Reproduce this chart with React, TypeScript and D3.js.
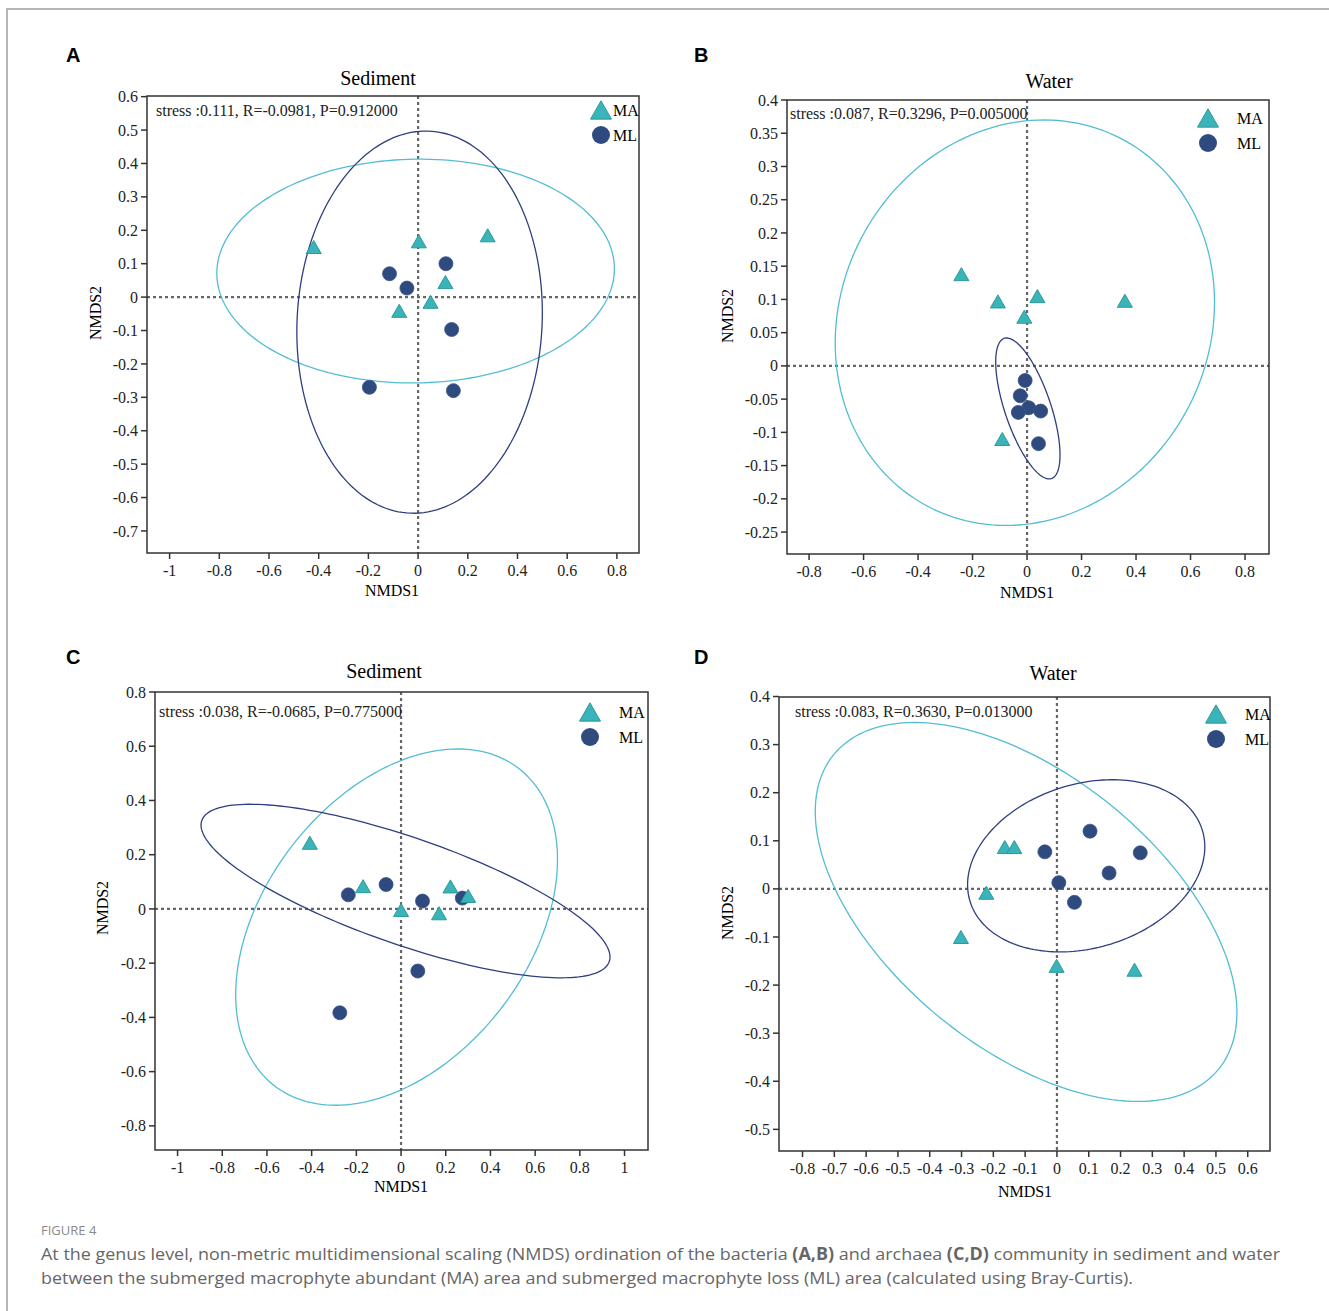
import React from 'react';
import * as d3 from 'd3';

// ---- data ----
const panelIds = ['A', 'B', 'C', 'D'];
const panelTitles = ['Sediment', 'Water', 'Sediment', 'Water'];
const stressLabels = [
  'stress :0.111, R=-0.0981, P=0.912000',
  'stress :0.087, R=0.3296, P=0.005000',
  'stress :0.038, R=-0.0685, P=0.775000',
  'stress :0.083, R=0.3630, P=0.013000',
];
const groupNames = ['MA', 'ML'];

const xTicksA = [-1, -0.8, -0.6, -0.4, -0.2, 0, 0.2, 0.4, 0.6, 0.8];
const yTicksA = [0.6, 0.5, 0.4, 0.3, 0.2, 0.1, 0, -0.1, -0.2, -0.3, -0.4, -0.5, -0.6, -0.7];
const xTicksB = [-0.8, -0.6, -0.4, -0.2, 0, 0.2, 0.4, 0.6, 0.8];
const yTicksB = [0.4, 0.35, 0.3, 0.25, 0.2, 0.15, 0.1, 0.05, 0, -0.05, -0.1, -0.15, -0.2, -0.25];
const xTicksC = [-1, -0.8, -0.6, -0.4, -0.2, 0, 0.2, 0.4, 0.6, 0.8, 1];
const yTicksC = [0.8, 0.6, 0.4, 0.2, 0, -0.2, -0.4, -0.6, -0.8];
const xTicksD = [-0.8, -0.7, -0.6, -0.5, -0.4, -0.3, -0.2, -0.1, 0, 0.1, 0.2, 0.3, 0.4, 0.5, 0.6];
const yTicksD = [0.4, 0.3, 0.2, 0.1, 0, -0.1, -0.2, -0.3, -0.4, -0.5];

// NMDS scores [NMDS1, NMDS2]
const maA = [[-0.42, 0.15], [0.003, 0.167], [0.28, 0.185], [0.11, 0.045], [0.05, -0.014], [-0.076, -0.041]];
const mlA = [[-0.115, 0.07], [-0.045, 0.027], [0.112, 0.1], [0.135, -0.097], [-0.196, -0.27], [0.142, -0.28]];
const maB = [[-0.241, 0.138], [-0.107, 0.097], [0.038, 0.105], [-0.01, 0.074], [0.359, 0.098], [-0.091, -0.11]];
const mlB = [[-0.007, -0.022], [-0.025, -0.045], [0.006, -0.063], [-0.032, -0.07], [0.05, -0.068], [0.042, -0.117]];
const maC = [[-0.408, 0.244], [-0.17, 0.084], [0.0, -0.004], [0.17, -0.016], [0.221, 0.083], [0.3, 0.048]];
const mlC = [[-0.236, 0.052], [-0.067, 0.09], [0.096, 0.029], [0.274, 0.04], [0.075, -0.229], [-0.274, -0.383]];
const maD = [[-0.164, 0.087], [-0.134, 0.087], [-0.222, -0.008], [-0.302, -0.1], [-0.001, -0.16], [0.244, -0.168]];
const mlD = [[-0.038, 0.077], [0.104, 0.12], [0.262, 0.075], [0.164, 0.033], [0.006, 0.013], [0.055, -0.028]];

// confidence ellipses: centre, half width, half height, correlation
const ellMA = [
  { cx: -0.01, cy: 0.078, hw: 0.8, hh: 0.335, rho: 0.02 },
  { cx: -0.008, cy: 0.065, hw: 0.696, hh: 0.305, rho: 0.1 },
  { cx: -0.02, cy: -0.067, hw: 0.72, hh: 0.657, rho: 0.38 },
  { cx: -0.097, cy: -0.048, hw: 0.663, hh: 0.394, rho: -0.53 },
];
const ellML = [
  { cx: 0.006, cy: -0.075, hw: 0.494, hh: 0.572, rho: 0.05 },
  { cx: 0.003, cy: -0.064, hw: 0.118, hh: 0.106, rho: -0.66 },
  { cx: 0.02, cy: 0.066, hw: 0.915, hh: 0.32, rho: -0.76 },
  { cx: 0.092, cy: 0.048, hw: 0.373, hh: 0.179, rho: 0.22 },
];

const xTicks = [xTicksA, xTicksB, xTicksC, xTicksD];
const yTicks = [yTicksA, yTicksB, yTicksC, yTicksD];
const maPts = [maA, maB, maC, maD];
const mlPts = [mlA, mlB, mlC, mlD];

// ---- layout ----
const layout = [
  { l: 147, t: 96, r: 639, b: 553, xd: [-1.091, 0.889], yd: [-0.766, 0.602], letter: [66, 62], title: [378, 85],
    stress: [156, 116], leg: { m: 601, tx: 613, y1: 110, y2: 135 }, xl: [392, 596], yl: [95, 313] },
  { l: 787, t: 100, r: 1269, b: 554, xd: [-0.881, 0.888], yd: [-0.283, 0.4], letter: [694, 62], title: [1049, 88],
    stress: [790, 119], leg: { m: 1208, tx: 1237, y1: 118, y2: 143 }, xl: [1027, 598], yl: [727, 316] },
  { l: 155, t: 692, r: 648, b: 1150, xd: [-1.101, 1.105], yd: [-0.889, 0.8], letter: [66, 664], title: [384, 678],
    stress: [159, 717], leg: { m: 590, tx: 619, y1: 712, y2: 737 }, xl: [401, 1192], yl: [102, 908] },
  { l: 779, t: 697, r: 1270, b: 1151, xd: [-0.874, 0.67], yd: [-0.545, 0.399], letter: [694, 664], title: [1053, 680],
    stress: [795, 717], leg: { m: 1216, tx: 1245, y1: 714, y2: 739 }, xl: [1025, 1197], yl: [727, 913] },
];

const TEAL = '#3bb3bb';
const TEAL_STROKE = '#2a9c94';
const TEAL_ELL = '#52bdd4';
const NAVY = '#2f4a7f';
const NAVY_ELL = '#2e3f80';
const SERIF = '"Liberation Serif", "Times New Roman", serif';

function triPath(cx: number, cy: number, w: number) {
  const h = w * 0.87;
  return `M${cx},${cy - h / 2}L${cx + w / 2},${cy + h / 2}L${cx - w / 2},${cy + h / 2}Z`;
}

function ellipsePoints(e: { cx: number; cy: number; hw: number; hh: number; rho: number }) {
  const s = Math.sqrt(1 - e.rho * e.rho);
  return d3.range(0, 181).map((i) => {
    const t = (i / 180) * Math.PI * 2;
    return [e.cx + e.hw * Math.cos(t), e.cy + e.hh * (e.rho * Math.cos(t) + s * Math.sin(t))];
  });
}

function Panel({ idx }: { idx: number }) {
  const L = layout[idx];
  const x = d3.scaleLinear().domain(L.xd).range([L.l, L.r]);
  const y = d3.scaleLinear().domain(L.yd).range([L.b, L.t]);
  const line = d3.line<number[]>().x((d) => x(d[0])).y((d) => y(d[1])).curve(d3.curveLinearClosed);

  return (
    <g>
      <text x={L.letter[0]} y={L.letter[1]} fontFamily='"Liberation Sans", Arial, sans-serif' fontWeight={700} fontSize={20}>
        {panelIds[idx]}
      </text>
      <text x={L.title[0]} y={L.title[1]} textAnchor="middle" fontFamily={SERIF} fontSize={20}>
        {panelTitles[idx]}
      </text>

      {/* zero lines */}
      <line x1={L.l} x2={L.r} y1={y(0)} y2={y(0)} stroke="#666" strokeWidth={2.2} strokeDasharray="3,3" />
      <line x1={x(0)} x2={x(0)} y1={L.t} y2={L.b} stroke="#666" strokeWidth={2.2} strokeDasharray="3,3" />

      {/* ellipses */}
      <path d={line(ellipsePoints(ellMA[idx])) || ''} fill="none" stroke={TEAL_ELL} strokeWidth={1.3} />
      <path d={line(ellipsePoints(ellML[idx])) || ''} fill="none" stroke={NAVY_ELL} strokeWidth={1.3} />

      {/* points */}
      {mlPts[idx].map((p, i) => (
        <circle key={'ml' + i} cx={x(p[0])} cy={y(p[1])} r={7} fill={NAVY} stroke="#3a5288" strokeWidth={0.8} />
      ))}
      {maPts[idx].map((p, i) => (
        <path key={'ma' + i} d={triPath(x(p[0]), y(p[1]), 15)} fill={TEAL} stroke={TEAL_STROKE} strokeWidth={1} />
      ))}

      {/* frame */}
      <rect x={L.l} y={L.t} width={L.r - L.l} height={L.b - L.t} fill="none" stroke="#333" strokeWidth={1.5} />

      {/* axes */}
      {xTicks[idx].map((v) => (
        <g key={'x' + v}>
          <line x1={x(v)} x2={x(v)} y1={L.b} y2={L.b + 6} stroke="#333" strokeWidth={1.5} />
          <text x={x(v)} y={L.b + 23} textAnchor="middle" fontFamily={SERIF} fontSize={16} fill="#222">
            {String(v)}
          </text>
        </g>
      ))}
      {yTicks[idx].map((v) => (
        <g key={'y' + v}>
          <line x1={L.l - 6} x2={L.l} y1={y(v)} y2={y(v)} stroke="#333" strokeWidth={1.5} />
          <text x={L.l - 9} y={y(v)} dy="0.35em" textAnchor="end" fontFamily={SERIF} fontSize={16} fill="#222">
            {String(v)}
          </text>
        </g>
      ))}
      <text x={L.xl[0]} y={L.xl[1]} textAnchor="middle" fontFamily={SERIF} fontSize={16}>
        NMDS1
      </text>
      <text
        transform={`translate(${L.yl[0]},${L.yl[1]}) rotate(-90)`}
        dy="0.35em"
        textAnchor="middle"
        fontFamily={SERIF}
        fontSize={16}
      >
        NMDS2
      </text>

      <text x={L.stress[0]} y={L.stress[1]} fontFamily={SERIF} fontSize={16} fill="#222">
        {stressLabels[idx]}
      </text>

      {/* legend */}
      <path d={triPath(L.leg.m, L.leg.y1, 21)} fill={TEAL} stroke={TEAL_STROKE} strokeWidth={1} />
      <circle cx={L.leg.m} cy={L.leg.y2} r={9} fill={NAVY} />
      <text x={L.leg.tx} y={L.leg.y1} dy="0.35em" fontFamily={SERIF} fontSize={16}>
        {groupNames[0]}
      </text>
      <text x={L.leg.tx} y={L.leg.y2} dy="0.35em" fontFamily={SERIF} fontSize={16}>
        {groupNames[1]}
      </text>
    </g>
  );
}

export default function App() {
  return (
    <svg
      width={1329}
      height={1311}
      style={{ position: 'absolute', left: 0, top: 0, background: '#fff' }}
    >
      <rect width={1329} height={1311} fill="#fff" />
      <line x1={7} x2={1329} y1={9} y2={9} stroke="#b5b5b5" strokeWidth={2} />
      <line x1={7} x2={7} y1={8} y2={1311} stroke="#b5b5b5" strokeWidth={2} />

      {[0, 1, 2, 3].map((i) => (
        <Panel key={i} idx={i} />
      ))}

      <text x={41} y={1235} fontFamily='"Open Sans", sans-serif' fontSize={13} fill="#8a8a8a">
        FIGURE 4
      </text>
      <text x={41} y={1260} fontFamily='"Open Sans", sans-serif' fontSize={17} fill="#666" textLength={1239} lengthAdjust="spacingAndGlyphs">
        At the genus level, non-metric multidimensional scaling (NMDS) ordination of the bacteria{' '}
        <tspan fontWeight={700}>(A,B)</tspan> and archaea <tspan fontWeight={700}>(C,D)</tspan> community in sediment and water
      </text>
      <text x={41} y={1284} fontFamily='"Open Sans", sans-serif' fontSize={17} fill="#666" textLength={1092} lengthAdjust="spacingAndGlyphs">
        between the submerged macrophyte abundant (MA) area and submerged macrophyte loss (ML) area (calculated using Bray-Curtis).
      </text>
    </svg>
  );
}
